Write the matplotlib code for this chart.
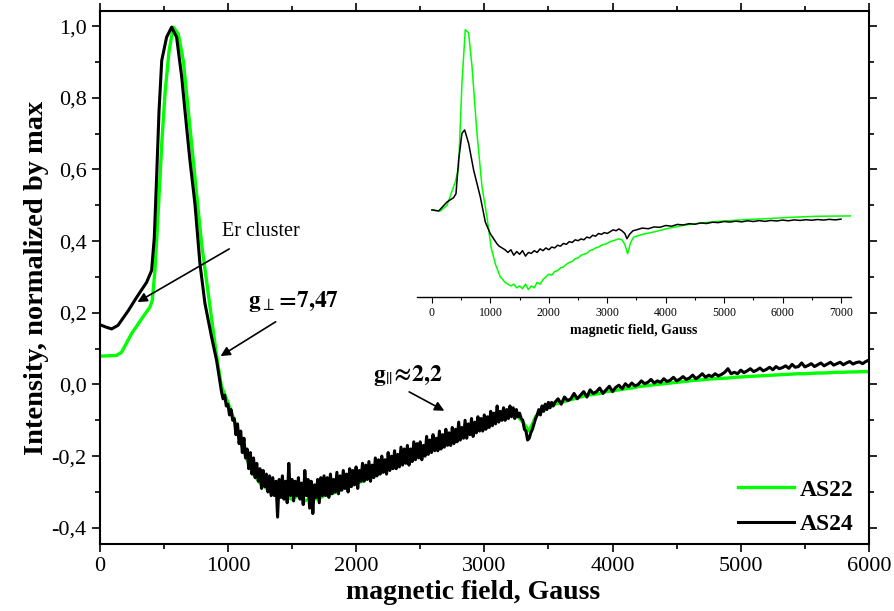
import numpy as np
import matplotlib
matplotlib.use("Agg")
import matplotlib.pyplot as plt
from matplotlib.ticker import MultipleLocator, FuncFormatter

plt.rcParams['font.family'] = ['Liberation Serif', 'DejaVu Serif']
plt.rcParams['mathtext.fontset'] = 'stix'

# main plot, peak region (field in Gauss, normalized intensity)
as24_peak_x = [0, 50, 93, 143, 223, 288, 366, 405, 426, 444, 463, 484, 522, 561,
               600, 640, 665, 704, 743, 782, 821, 873, 912]
as24_peak_y = [0.167, 0.160, 0.155, 0.165, 0.206, 0.243, 0.285, 0.318, 0.41, 0.578,
               0.764, 0.904, 0.969, 0.997, 0.969, 0.857, 0.764, 0.625, 0.504, 0.337,
               0.226, 0.132, 0.067]
as22_peak_x = [0, 132, 171, 249, 327, 392, 410, 431, 457, 484, 509, 541, 574, 613,
               652, 691, 743, 795, 847, 899, 925]
as22_peak_y = [0.079, 0.081, 0.09, 0.142, 0.183, 0.216, 0.234, 0.318, 0.485, 0.671,
               0.81, 0.93, 0.997, 0.978, 0.904, 0.764, 0.578, 0.392, 0.253, 0.114, 0.05]

# AS24 noisy part, 950..3537.5 G every 12.5 G
as24_noisy = [
    -0.02, -0.04, -0.03, -0.06, -0.055, -0.085, -0.07, -0.10,
    -0.095, -0.14, -0.11, -0.165, -0.13, -0.19, -0.15, -0.205,
    -0.18, -0.235, -0.19, -0.25, -0.205, -0.26, -0.22, -0.27,
    -0.235, -0.29, -0.24, -0.285, -0.25, -0.30, -0.255, -0.31,
    -0.26, -0.31, -0.27, -0.37, -0.265, -0.315, -0.255, -0.32,
    -0.27, -0.33, -0.22, -0.31, -0.265, -0.325, -0.27, -0.31,
    -0.26, -0.32, -0.275, -0.335, -0.24, -0.31, -0.265, -0.345,
    -0.27, -0.36, -0.28, -0.315, -0.265, -0.33, -0.26, -0.31,
    -0.255, -0.31, -0.26, -0.315, -0.25, -0.305, -0.265, -0.30,
    -0.245, -0.305, -0.255, -0.295, -0.24, -0.29, -0.25, -0.30,
    -0.235, -0.285, -0.24, -0.28, -0.23, -0.29, -0.24, -0.27,
    -0.22, -0.27, -0.225, -0.265, -0.215, -0.27, -0.225, -0.26,
    -0.205, -0.255, -0.21, -0.25, -0.2, -0.245, -0.21, -0.25,
    -0.19, -0.24, -0.2, -0.235, -0.185, -0.235, -0.195, -0.23,
    -0.175, -0.225, -0.18, -0.22, -0.17, -0.225, -0.18, -0.215,
    -0.16, -0.21, -0.165, -0.205, -0.16, -0.21, -0.17, -0.2,
    -0.145, -0.195, -0.155, -0.19, -0.14, -0.185, -0.15, -0.185,
    -0.13, -0.18, -0.14, -0.175, -0.125, -0.17, -0.135, -0.17,
    -0.12, -0.165, -0.125, -0.16, -0.105, -0.155, -0.12, -0.15,
    -0.1, -0.15, -0.11, -0.14, -0.095, -0.145, -0.105, -0.135,
    -0.09, -0.13, -0.095, -0.13, -0.085, -0.125, -0.09, -0.12,
    -0.075, -0.115, -0.08, -0.11, -0.06, -0.105, -0.075, -0.1,
    -0.065, -0.1, -0.07, -0.095, -0.06, -0.09, -0.065, -0.095,
    -0.07, -0.09, -0.08, -0.095, -0.1, -0.125, -0.13, -0.155,
    -0.15, -0.135, -0.125, -0.11, -0.095, -0.085, -0.07, -0.085,
    -0.06, -0.075, -0.055, -0.07, -0.05, -0.065, -0.05, -0.06]
# AS24 rest, 3550..6000 G every 25 G
as24_tail = [
    -0.05, -0.04, -0.055, -0.035, -0.045, -0.04, -0.025, -0.04,
    -0.03, -0.02, -0.035, -0.015, -0.025, -0.02, -0.01, -0.025,
    -0.015, -0.005, -0.02, -0.008, -0.002, -0.012, 0.002, -0.006,
    0.004, -0.004, 0.0, 0.01, 0.002, 0.006, 0.014, 0.004,
    0.01, 0.006, 0.016, 0.008, 0.012, 0.02, 0.01, 0.015,
    0.022, 0.014, 0.018, 0.026, 0.016, 0.022, 0.03, 0.02,
    0.026, 0.022, 0.03, 0.024, 0.028, 0.034, 0.044, 0.03,
    0.034, 0.03, 0.04, 0.033, 0.038, 0.044, 0.036, 0.04,
    0.046, 0.038, 0.042, 0.048, 0.041, 0.05, 0.044, 0.047,
    0.052, 0.045, 0.056, 0.048, 0.05, 0.06, 0.049, 0.053,
    0.058, 0.05, 0.055, 0.06, 0.052, 0.057, 0.062, 0.054,
    0.058, 0.062, 0.055, 0.06, 0.064, 0.057, 0.061, 0.063,
    0.058, 0.064, 0.068]
# AS22 rest, 950..6000 G every 50 G
as22_tail = [
    -0.005, -0.05, -0.10, -0.16, -0.21, -0.25, -0.275, -0.29, -0.305, -0.31,
    -0.315, -0.32, -0.31, -0.325, -0.315, -0.32, -0.31, -0.305, -0.30, -0.29,
    -0.285, -0.275, -0.27, -0.26, -0.255, -0.245, -0.235, -0.225, -0.215, -0.205,
    -0.195, -0.19, -0.18, -0.17, -0.16, -0.155, -0.145, -0.135, -0.125, -0.12,
    -0.11, -0.105, -0.095, -0.09, -0.085, -0.08, -0.085, -0.105, -0.13, -0.09,
    -0.07, -0.065, -0.055, -0.05, -0.045, -0.04, -0.035, -0.03, -0.028, -0.025,
    -0.02, -0.018, -0.015, -0.012, -0.01, -0.006, -0.004, -0.002, 0.0, 0.002,
    0.004, 0.006, 0.008, 0.01, 0.012, 0.013, 0.015, 0.016, 0.017, 0.018,
    0.02, 0.021, 0.022, 0.023, 0.024, 0.025, 0.026, 0.027, 0.028, 0.029,
    0.03, 0.03, 0.031, 0.032, 0.032, 0.033, 0.034, 0.034, 0.035, 0.035,
    0.036, 0.036]

# inset (arbitrary units, AS22 peak = 1)
in22_x1 = [0, 143, 257, 400, 456, 513, 570, 627, 685, 770, 856, 941, 1010, 1084, 1169]
in22_y1 = [0, -0.006, 0.026, 0.155, 0.238, 0.70, 0.996, 0.978, 0.793, 0.423, 0.128,
           -0.039, -0.205, -0.298, -0.37]
in22_mid = [-0.38, -0.40, -0.41, -0.42, -0.41, -0.43, -0.42, -0.435, -0.41, -0.44,
            -0.42, -0.43, -0.40, -0.41, -0.385, -0.37, -0.355, -0.36, -0.34, -0.335,
            -0.32, -0.315, -0.30, -0.29, -0.285, -0.27, -0.265, -0.25, -0.245, -0.24,
            -0.225, -0.22, -0.21, -0.205, -0.195, -0.19, -0.185, -0.175, -0.17, -0.165,
            -0.16, -0.165, -0.19]
in22_x2 = [3348, 3400, 3451, 3600, 3793, 4000, 4307, 4600, 4991, 5400, 5733, 6200, 6589, 7170]
in22_y2 = [-0.242, -0.18, -0.15, -0.135, -0.122, -0.105, -0.085, -0.072, -0.061,
           -0.053, -0.048, -0.04, -0.035, -0.033]

in24_x1 = [0, 114, 257, 371, 411, 456, 513, 559, 627, 713, 827, 913, 998, 1112]
in24_y1 = [0, -0.006, 0.044, 0.068, 0.09, 0.275, 0.423, 0.442, 0.368, 0.22, 0.072,
           -0.067, -0.131, -0.187]
in24_mid = [-0.20, -0.21, -0.22, -0.235, -0.22, -0.25, -0.23, -0.245, -0.225, -0.255,
            -0.235, -0.24, -0.225, -0.235, -0.215, -0.225, -0.21, -0.22, -0.205, -0.21,
            -0.195, -0.2, -0.185, -0.19, -0.175, -0.18, -0.165, -0.17, -0.16, -0.165,
            -0.15, -0.155, -0.14, -0.145, -0.13, -0.135, -0.125, -0.13, -0.12, -0.11,
            -0.115, -0.105, -0.115, -0.13]
in24_x2 = [3337, 3380, 3440]
in24_y2 = [-0.159, -0.135, -0.115]
in24_end = [-0.11, -0.10, -0.104, -0.094, -0.096, -0.086, -0.09, -0.08, -0.083, -0.076,
            -0.079, -0.072, -0.075, -0.068, -0.07, -0.064, -0.067, -0.062, -0.066, -0.06,
            -0.064, -0.059, -0.063, -0.058, -0.061, -0.056, -0.06, -0.055, -0.058, -0.054,
            -0.057, -0.053, -0.056, -0.052, -0.055, -0.051]

x24 = np.concatenate([as24_peak_x, np.arange(950, 3540, 12.5), np.arange(3550, 6001, 25)])
y24 = np.concatenate([as24_peak_y, as24_noisy, as24_tail])
x22 = np.concatenate([as22_peak_x, np.arange(950, 6001, 50)])
y22 = np.concatenate([as22_peak_y, as22_tail])

ix22 = np.concatenate([in22_x1, np.arange(1200, 3301, 50), in22_x2])
iy22 = np.concatenate([in22_y1, in22_mid, in22_y2])
ix24 = np.concatenate([in24_x1, np.arange(1150, 3301, 50), in24_x2, np.arange(3500, 7001, 100)])
iy24 = np.concatenate([in24_y1, in24_mid, in24_y2, in24_end])

green = '#00ff00'

fig = plt.figure(figsize=(8.94, 6.11), dpi=100)
ax = fig.add_axes([0.1115, 0.1097, 0.8605, 0.8723])

ax.plot(x22, y22, color=green, lw=2.4, label='AS22')
ax.plot(x24, y24, color='k', lw=2.2, label='AS24')

ax.set_xlim(0, 6000)
ax.set_ylim(-0.445, 1.042)
ax.xaxis.set_major_locator(MultipleLocator(1000))
ax.xaxis.set_minor_locator(MultipleLocator(500))
ax.yaxis.set_major_locator(MultipleLocator(0.2))
ax.yaxis.set_minor_locator(MultipleLocator(0.1))


def comma_fmt(v, pos):
    if abs(v) < 1e-9:
        v = 0.0
    return f'{v:.1f}'.replace('.', ',')


ax.yaxis.set_major_formatter(FuncFormatter(comma_fmt))
ax.tick_params(which='both', direction='out', top=True, right=True, width=1.2,
               labelsize=16)
ax.tick_params(which='major', length=6)
ax.tick_params(which='minor', length=3.5)
for s in ax.spines.values():
    s.set_linewidth(1.5)

ax.set_xlabel('magnetic field, Gauss', fontsize=20, fontweight='bold', labelpad=0)
ax.xaxis.set_label_coords(0.486, -0.068)
ax.set_ylabel('Intensity, normalized by max', fontsize=20.5, fontweight='bold', labelpad=2)

arrow = dict(arrowstyle='-|>', color='k', lw=1.2, mutation_scale=14)
ax.text(957, 0.427, 'Er cluster', fontsize=14.5, ha='left', va='center')
ax.annotate('', xy=(276, 0.226), xytext=(1029, 0.382), arrowprops=arrow)
ax.text(1157, 0.215, r'$\mathbf{g}_{\perp}\!\mathbf{=}\!\mathbf{7{,}47}$', fontsize=17,
        ha='left', va='baseline')
ax.annotate('', xy=(924, 0.075), xytext=(1391, 0.179), arrowprops=arrow)
ax.text(2132, 0.011, r'$\mathbf{g}_{||}\!\mathbf{\approx}\!\mathbf{2{,}2}$', fontsize=17,
        ha='left', va='baseline')
ax.annotate('', xy=(2707, -0.077), xytext=(2395, -0.017), arrowprops=arrow)

ax.legend(loc='upper left', bbox_to_anchor=(738 / 894, 1 - 479 / 611),
          bbox_transform=fig.transFigure, frameon=False, borderpad=0,
          borderaxespad=0, handlelength=2.37, handletextpad=0.25, labelspacing=0.55,
          prop={'weight': 'bold', 'size': 17})

# inset
axi = fig.add_axes([0.4664, 0.5139, 0.4855, 0.4616])
axi.plot(ix22, iy22, color=green, lw=1.1)
axi.plot(ix24, iy24, color='k', lw=1.1)
axi.set_xlim(-257, 7171)
axi.set_ylim(-0.481, 1.077)
axi.patch.set_alpha(0)
for side in ['top', 'right', 'left']:
    axi.spines[side].set_visible(False)
axi.spines['bottom'].set_linewidth(1.0)
axi.set_yticks([])
axi.xaxis.set_major_locator(MultipleLocator(1000))
axi.xaxis.set_minor_locator(MultipleLocator(500))
axi.tick_params(which='both', direction='out', labelsize=8.5, width=0.8)
axi.tick_params(which='major', length=4)
axi.tick_params(which='minor', length=2.5)
axi.set_xlabel('magnetic field, Gauss', fontsize=10, fontweight='bold', labelpad=3)

fig.savefig('out.png', dpi=100)
